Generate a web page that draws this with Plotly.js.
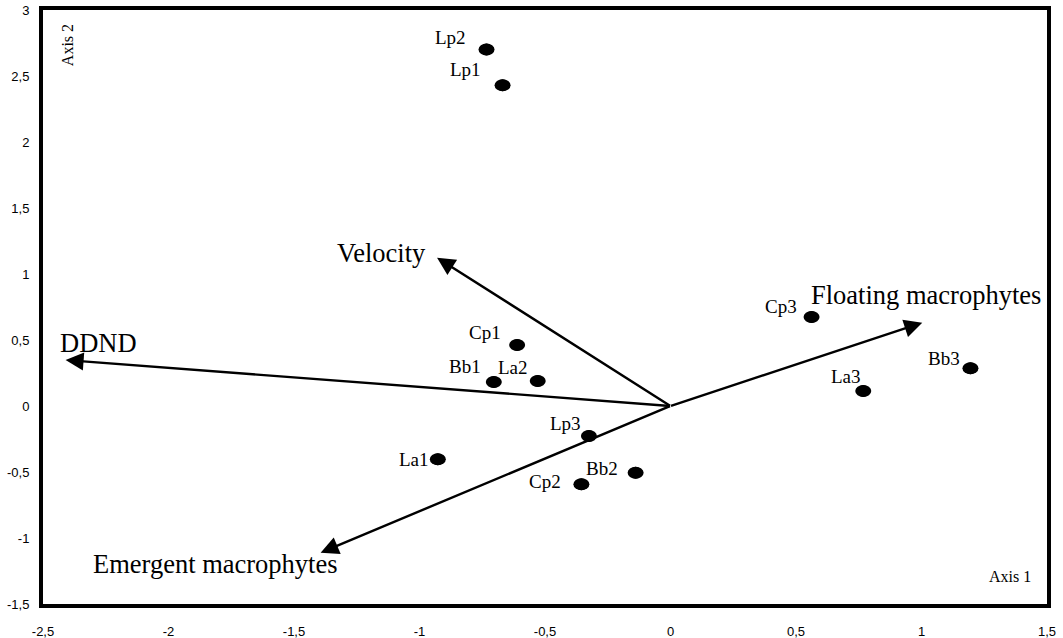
<!DOCTYPE html>
<html>
<head>
<meta charset="utf-8">
<script src="https://cdn.plot.ly/plotly-3.0.1.min.js"></script>
<style>html,body{margin:0;padding:0;background:#fff;}#chart{width:1063px;height:638px;}</style>
</head>
<body>
<div id="chart"></div>
<script>
// Sites (ordination scores)
const siteNames = ['Lp2','Lp1','Cp1','Bb1','La2','Lp3','La1','Bb2','Cp2','Cp3','Bb3','La3'];
const siteAxis1 = [-0.733,-0.669,-0.611,-0.704,-0.529,-0.325,-0.927,-0.139,-0.355,0.562,1.195,0.768];
const siteAxis2 = [2.70,2.43,0.462,0.182,0.189,-0.227,-0.404,-0.505,-0.593,0.674,0.286,0.114];

// Environmental vectors
const vectorNames = ['DDND','Velocity','Floating macrophytes','Emergent macrophytes'];
const vectorAxis1 = [-2.41,-0.930,1.003,-1.394];
const vectorAxis2 = [0.348,1.124,0.631,-1.111];

// Tick labels
const xTickVals = [-2.5,-2,-1.5,-1,-0.5,0,0.5,1,1.5];
const xTickText = ['-2,5','-2','-1,5','-1','-0,5','0','0,5','1','1,5'];
const yTickVals = [-1.5,-1,-0.5,0,0.5,1,1.5,2,2.5,3];
const yTickText = ['-1,5','-1','-0,5','0','0,5','1','1,5','2','2,5','3'];

// label placement (pixel shifts, style only)
const siteLabelShift = [[-19,12],[-20,16],[-14,13],[-11,15],[-8,14],[-6,12],[-7,0],[-16,4],[-18,3],[-13,11],[-8,10],[0,14]];
const vectorLabelStyle = [
  {xanchor:'left', xshift:-8, yshift:17},
  {xanchor:'right', xshift:-9, yshift:5},
  {xanchor:'left', xshift:-113, yshift:28},
  {xanchor:'left', xshift:-230, yshift:-11}
];

const serif = 'Liberation Serif, Times New Roman, serif';
const annotations = [];
const shapes = [];

vectorNames.forEach((n,i)=>{
  annotations.push({
    x: vectorAxis1[i], y: vectorAxis2[i], xref:'x', yref:'y',
    ax: 0, ay: 0, axref:'x', ayref:'y',
    text:'', font:{size:1}, borderpad:0, showarrow:true, arrowhead:2, arrowsize:1.5,
    arrowwidth:2.4, arrowcolor:'#000', startstandoff:0, standoff:0
  });
  const st = vectorLabelStyle[i];
  annotations.push({
    x: vectorAxis1[i], y: vectorAxis2[i], xref:'x', yref:'y',
    text: n, showarrow:false, xanchor: st.xanchor, yanchor:'middle',
    xshift: st.xshift, yshift: st.yshift,
    font:{family:serif, size:26.5, color:'#000'}
  });
});

siteNames.forEach((n,i)=>{
  annotations.push({
    x: siteAxis1[i], y: siteAxis2[i], xref:'x', yref:'y',
    text: n, showarrow:false, xanchor:'right', yanchor:'middle',
    xshift: siteLabelShift[i][0], yshift: siteLabelShift[i][1],
    font:{family:serif, size:19, color:'#000'}
  });
  shapes.push({
    type:'circle', xref:'x', yref:'y',
    xsizemode:'pixel', ysizemode:'pixel',
    xanchor: siteAxis1[i], yanchor: siteAxis2[i],
    x0:-8, x1:8, y0:-6, y1:6,
    fillcolor:'#000', line:{width:0}
  });
});

annotations.push({xref:'paper', yref:'paper', x:0.024, y:0.941, text:'Axis 2', textangle:-90,
  showarrow:false, xanchor:'center', yanchor:'middle', font:{family:serif, size:16, color:'#000'}});
annotations.push({xref:'paper', yref:'paper', x:0.963, y:0.047, text:'Axis 1',
  showarrow:false, xanchor:'center', yanchor:'middle', font:{family:serif, size:16, color:'#000'}});

const trace = {
  x: siteAxis1, y: siteAxis2, text: siteNames, type:'scatter', mode:'markers',
  marker:{symbol:'circle', size:12, color:'#000'}, hoverinfo:'text', showlegend:false
};

const layout = {
  width:1063, height:638,
  margin:{l:43, r:16, t:10, b:34},
  paper_bgcolor:'#fff', plot_bgcolor:'#fff',
  showlegend:false,
  xaxis:{range:[-2.5,1.5], tickvals:xTickVals, ticktext:xTickText, showgrid:false, zeroline:false,
    showline:true, mirror:true, linewidth:4, linecolor:'#000', ticks:'', ticklabelstandoff:12,
    tickfont:{family:'Liberation Sans, Arial, sans-serif', size:13, color:'#000'}},
  yaxis:{range:[-1.5,3], tickvals:yTickVals, ticktext:yTickText, showgrid:false, zeroline:false,
    showline:true, mirror:true, linewidth:4, linecolor:'#000', ticks:'', ticklabelstandoff:7,
    tickfont:{family:'Liberation Sans, Arial, sans-serif', size:13, color:'#000'}},
  annotations: annotations,
  shapes: shapes
};

Plotly.newPlot('chart', [trace], layout, {displayModeBar:false, staticPlot:true});
</script>
</body>
</html>
